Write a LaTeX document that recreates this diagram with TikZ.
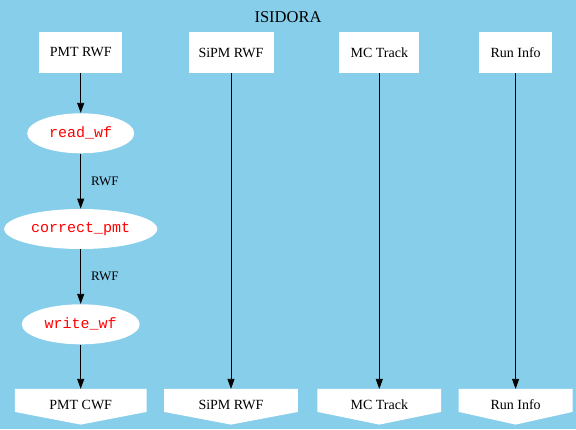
\documentclass[tikz,border=0pt]{standalone}
\usepackage{fontspec}
\setmainfont{Liberation Serif}
\setmonofont{Liberation Mono}
\usetikzlibrary{shapes}
\usetikzlibrary{backgrounds}
\usetikzlibrary{calc}
\usetikzlibrary{arrows.meta}
\definecolor{skyblue}{HTML}{87CEEB}

\newcommand{\invhouse}[1]{\fill[white] (#1.north west) -- (#1.north east) -- ($(#1.north east)+(0,23)$) -- ($(#1.north)+(0,35.7)$) -- ($(#1.north west)+(0,23)$) -- cycle;}

\begin{document}
\begin{tikzpicture}[x=1pt, y=-1pt, >={Triangle[length=10pt,width=7pt]}, line width=0.8pt,
    every node/.style={font=\fontsize{14}{16}\selectfont},
    infile/.style={rectangle, fill=white, minimum height=40.4pt, inner sep=0pt},
    outfile/.style={rectangle, minimum height=30.4pt, inner sep=0pt},
    func/.style={ellipse, fill=white, minimum height=40pt, inner sep=0pt, text=red, font=\ttfamily\fontsize{15}{17}\selectfont},
    lbl/.style={anchor=west, inner sep=0pt, xshift=10pt, font=\fontsize{13}{15}\selectfont}]

      \node (title) at (288,17.2) {\fontsize{16.5}{18}\selectfont ISIDORA};

      \begin{scope}
        \node[infile, minimum width=83pt] (pmtrwf) at (80.7,52.5) {PMT RWF};
        \node[infile, minimum width=85pt] (sipmrwf) at (231,52.5) {SiPM RWF};
        \node[infile, minimum width=80pt] (mctrack) at (379.3,52.5) {MC Track};
        \node[infile, minimum width=72.4pt] (runinfo) at (515.6,52.5) {Run Info};

        \node[func, minimum width=107pt] (readwf) at (80.7,133.3) {read\_wf};
        \node[func, minimum width=153pt] (correctpmt) at (80.7,229) {correct\_pmt};
        \node[func, minimum width=118pt] (writewf) at (80.7,324.3) {write\_wf};

        \node[outfile, minimum width=131pt] (pmtcwf) at (80.7,404.5) {PMT CWF};
        \node[outfile, minimum width=133pt] (sipmout) at (231,404.5) {SiPM RWF};
        \node[outfile, minimum width=123pt] (mcout) at (379.3,404.5) {MC Track};
        \node[outfile, minimum width=113pt] (runout) at (515.6,404.5) {Run Info};

        \draw[->] (pmtrwf) to (readwf);
        \draw[->] (readwf) to node[midway, lbl] {RWF} (correctpmt);
        \draw[->] (correctpmt) to node[midway, lbl] {RWF} (writewf);
        \draw[->] (writewf) to (pmtcwf);
        \draw[->] (sipmrwf) to (sipmout);
        \draw[->] (mctrack) to (mcout);
        \draw[->] (runinfo) to (runout);
      \end{scope}

      \begin{scope}[on background layer]
        \fill[skyblue] (0,0) rectangle (576,429);
        \invhouse{pmtcwf}
        \invhouse{sipmout}
        \invhouse{mcout}
        \invhouse{runout}
      \end{scope}
    \end{tikzpicture}
\end{document}
